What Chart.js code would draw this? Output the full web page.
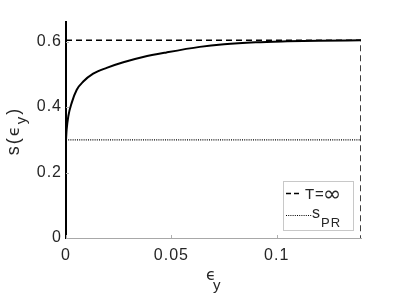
<!DOCTYPE html>
<html>
<head>
<meta charset="utf-8">
<script src="https://cdn.jsdelivr.net/npm/chart.js@4/dist/chart.umd.min.js"></script>
<style>
html,body{margin:0;padding:0;background:#fff;}
#wrap{width:399px;height:299px;position:relative;}
</style>
</head>
<body>
<div id="wrap"><canvas id="c" width="399" height="299"></canvas></div>
<script>
// Curve s(eps_y)
const epsValues = [0, 0.0003, 0.0011, 0.0027, 0.0051, 0.0082, 0.0129, 0.0193, 0.0272, 0.0366, 0.0477, 0.0635, 0.075, 0.09, 0.105, 0.12, 0.14];
const sValues   = [0.30, 0.331, 0.372, 0.413, 0.453, 0.478, 0.502, 0.520, 0.537, 0.553, 0.567, 0.584, 0.592, 0.598, 0.601, 0.603, 0.604];
// T = infinity (dashed)
const tInfX = [0, 0.14, 0.14];
const tInfY = [0.604, 0.604, 0];
// s_PR (dotted)
const sprX = [0, 0.14];
const sprY = [0.30, 0.30];
// ticks
const xTicks = [0, 0.05, 0.1];
const xTickLabels = ['0', '0.05', '0.1'];
const yTicks = [0, 0.2, 0.4, 0.6];
const yTickLabels = ['0', '0.2', '0.4', '0.6'];

const FONT = '"Liberation Sans", Arial, sans-serif';
const TXT = '#262626';

const toXY = (xs, ys) => xs.map((x, i) => ({x: x, y: ys[i]}));

const spacingPlugin = {
  id: 'spacing',
  beforeInit(chart) { chart.ctx.letterSpacing = '1px'; },
  beforeLayout(chart) { chart.ctx.letterSpacing = '1px'; },
  beforeDraw(chart) { chart.ctx.letterSpacing = '1px'; }
};

const decorPlugin = {
  id: 'decor',
  afterDatasetsDraw(chart) {
    const ctx = chart.ctx;
    const xs = chart.scales.x, ys = chart.scales.y;
    const ca = chart.chartArea;
    ctx.save();
    // inner ticks
    ctx.strokeStyle = '#b0b0b0';
    ctx.lineWidth = 1;
    xTicks.forEach(v => {
      const px = Math.round(xs.getPixelForValue(v)) + 0.5;
      ctx.beginPath(); ctx.moveTo(px, ca.bottom); ctx.lineTo(px, ca.bottom - 3); ctx.stroke();
    });
    yTicks.forEach(v => {
      const py = Math.round(ys.getPixelForValue(v)) + 0.5;
      ctx.beginPath(); ctx.moveTo(ca.left, py); ctx.lineTo(ca.left + 3, py); ctx.stroke();
    });
    // legend box
    const bx = 283.5, by = 181.5, bw = 70, bh = 49;
    ctx.fillStyle = '#fff';
    ctx.fillRect(bx, by, bw, bh);
    ctx.strokeStyle = '#c8c8c8';
    ctx.strokeRect(bx, by, bw, bh);
    ctx.strokeStyle = '#000';
    ctx.lineWidth = 1.5;
    // dashed sample
    ctx.setLineDash([5, 3]);
    ctx.beginPath(); ctx.moveTo(286, 193.5); ctx.lineTo(300, 193.5); ctx.stroke();
    // dotted sample
    ctx.setLineDash([1, 1.2]);
    ctx.lineWidth = 1.2;
    ctx.beginPath(); ctx.moveTo(286, 215.5); ctx.lineTo(312, 215.5); ctx.stroke();
    ctx.setLineDash([]);
    ctx.fillStyle = TXT;
    ctx.textBaseline = 'alphabetic';
    ctx.textAlign = 'left';
    ctx.letterSpacing = '0px';
    ctx.font = '15px ' + FONT;
    ctx.fillText('T', 305, 199);
    ctx.fillText('=', 315, 199);
    ctx.font = '22px "DejaVu Sans", ' + FONT;
    ctx.fillText('\u221E', 323, 201);
    ctx.font = '16px ' + FONT;
    ctx.fillText('s', 312, 218);
    ctx.font = '13px ' + FONT;
    ctx.letterSpacing = '1px';
    ctx.fillText('PR', 321, 227);

    // x title eps_y
    ctx.letterSpacing = '0px';
    ctx.font = '16px "DejaVu Sans"';
    ctx.fillText('\u03F5', 206, 280);
    ctx.font = '15px ' + FONT;
    ctx.fillText('y', 213, 290);

    // y title s(eps_y), rotated
    ctx.translate(19, 131);
    ctx.rotate(-Math.PI / 2);
    const parts = [
      ['s', '18px ' + FONT, 0],
      ['(', '18px ' + FONT, 0],
      ['\u03F5', '16px "DejaVu Sans"', 0],
      ['y', '15px ' + FONT, 7],
      [')', '18px ' + FONT, 0]
    ];
    ctx.letterSpacing = '2px';
    let total = 0;
    parts.forEach(p => { ctx.font = p[1]; total += ctx.measureText(p[0]).width; });
    let x0 = -total / 2;
    parts.forEach(p => {
      ctx.font = p[1];
      ctx.fillText(p[0], x0, p[2]);
      x0 += ctx.measureText(p[0]).width;
    });
    ctx.restore();
  }
};

new Chart(document.getElementById('c'), {
  type: 'line',
  data: {
    datasets: [
      {
        label: 'curve',
        data: toXY(epsValues, sValues),
        borderColor: '#000', borderWidth: 2, pointRadius: 0,
        cubicInterpolationMode: 'monotone', fill: false
      },
      {
        label: 'T=inf',
        data: toXY(tInfX, tInfY),
        borderColor: '#000', borderWidth: 1.5, pointRadius: 0,
        borderDash: [6, 4], tension: 0, fill: false
      },
      {
        label: 'sPR',
        data: toXY(sprX, sprY),
        borderColor: '#000', borderWidth: 1.3, pointRadius: 0,
        borderDash: [1, 1.2], tension: 0, fill: false
      }
    ]
  },
  options: {
    responsive: false,
    animation: false,
    devicePixelRatio: 1,
    layout: { padding: { left: 0, right: 38, top: 22, bottom: 0 } },
    plugins: { legend: { display: false }, tooltip: { enabled: false } },
    scales: {
      x: {
        type: 'linear', min: 0, max: 0.14,
        afterBuildTicks: s => { s.ticks = xTicks.map(v => ({value: v})); },
        afterFit: s => { s.height = 61; },
        ticks: {
          color: TXT, font: { size: 16, family: FONT }, padding: 8, maxRotation: 0,
          callback: (v) => { const i = xTicks.indexOf(v); return i >= 0 ? xTickLabels[i] : ''; }
        },
        grid: { display: false, drawTicks: false },
        border: { display: true, color: '#a8a8a8', width: 1 }
      },
      y: {
        type: 'linear', min: 0, max: 0.66,
        afterBuildTicks: s => { s.ticks = yTicks.map(v => ({value: v})); },
        afterFit: s => { s.width = 66; },
        ticks: {
          color: TXT, font: { size: 16, family: FONT }, padding: 4,
          callback: (v) => { const i = yTicks.indexOf(v); return i >= 0 ? yTickLabels[i] : ''; }
        },
        grid: { display: false, drawTicks: false },
        border: { display: true, color: '#000', width: 2 }
      }
    }
  },
  plugins: [spacingPlugin, decorPlugin]
});
</script>
</body>
</html>
